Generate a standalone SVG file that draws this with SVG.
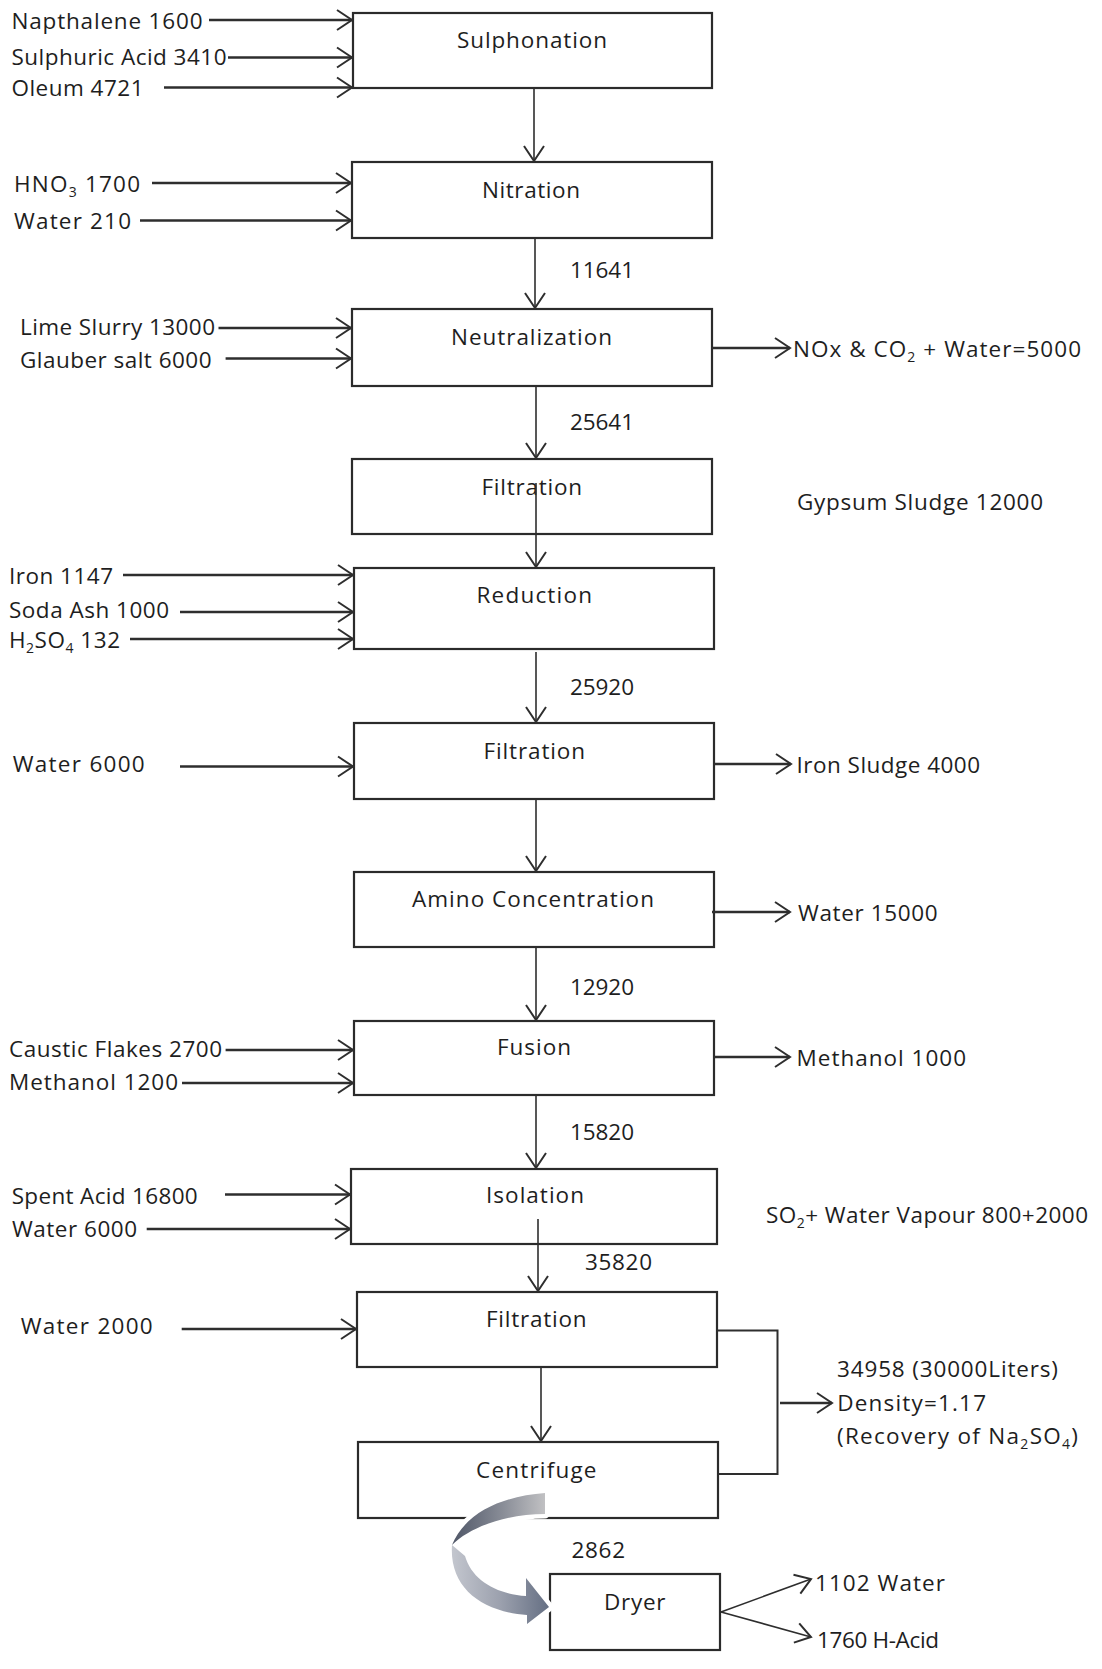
<svg xmlns="http://www.w3.org/2000/svg" width="1102" height="1669" viewBox="0 0 1102 1669">
  <defs>
    <style>
      text { font-family: "Open Sans", Lato, "Liberation Sans", sans-serif; font-size: 22.5px; fill: #1e1e1e; }
      .box rect { fill: #ffffff; stroke: #2b2b2b; stroke-width: 2.2; }
      .ln { stroke: #2e2e2e; fill: none; }
      .feed { stroke-width: 2.4; }
      .main { stroke-width: 1.6; }
      .sub { font-size: 14px; }
    </style>
    <marker id="head" viewBox="-17 -12 19 24" refX="0" refY="0" markerWidth="19" markerHeight="24" markerUnits="userSpaceOnUse" orient="auto">
      <path d="M-15,-10 L0,0 L-15,10" fill="none" stroke="#2e2e2e" stroke-width="2"/>
    </marker>
    <linearGradient id="bandTop" x1="452" y1="0" x2="546" y2="0" gradientUnits="userSpaceOnUse">
      <stop offset="0" stop-color="#4f5667"/>
      <stop offset="0.55" stop-color="#8a8e98"/>
      <stop offset="1" stop-color="#c2c2c4"/>
    </linearGradient>
    <linearGradient id="bandLow" x1="452" y1="0" x2="548" y2="0" gradientUnits="userSpaceOnUse">
      <stop offset="0" stop-color="#c3c6ce"/>
      <stop offset="0.5" stop-color="#9ca1ae"/>
      <stop offset="1" stop-color="#667084"/>
    </linearGradient>
  </defs>

  <rect x="0" y="0" width="1102" height="1669" fill="#ffffff"/>

  <!-- process steps -->
  <g id="sulphonation" class="box"><rect x="353" y="13" width="359" height="75"/><text x="457" y="48" textLength="150">Sulphonation</text></g>
  <g id="nitration" class="box"><rect x="352" y="162" width="360" height="76"/><text x="482" y="198" textLength="98">Nitration</text></g>
  <g id="neutralization" class="box"><rect x="352" y="309" width="360" height="77"/><text x="451" y="345" textLength="161">Neutralization</text></g>
  <g id="filtration1" class="box"><rect x="352" y="459" width="360" height="75"/><text x="481.5" y="495" textLength="100.5">Filtration</text></g>
  <g id="reduction" class="box"><rect x="354" y="568" width="360" height="81"/><text x="476.5" y="603" textLength="115.5">Reduction</text></g>
  <g id="filtration2" class="box"><rect x="354" y="723" width="360" height="76"/><text x="483.6" y="759" textLength="101.4">Filtration</text></g>
  <g id="amino-concentration" class="box"><rect x="354" y="872" width="360" height="75"/><text x="412" y="907" textLength="242">Amino Concentration</text></g>
  <g id="fusion" class="box"><rect x="354" y="1021" width="360" height="74"/><text x="497" y="1055" textLength="74">Fusion</text></g>
  <g id="isolation" class="box"><rect x="351" y="1169" width="366" height="75"/><text x="486" y="1203" textLength="98">Isolation</text></g>
  <g id="filtration3" class="box"><rect x="357" y="1292" width="360" height="75"/><text x="486" y="1327" textLength="100.5">Filtration</text></g>
  <g id="centrifuge" class="box"><rect x="358" y="1442" width="360" height="76"/><text x="476" y="1478" textLength="120.5">Centrifuge</text></g>
  <g id="dryer" class="box"><rect x="550" y="1574" width="170" height="76"/><text x="604" y="1610" textLength="61.5">Dryer</text></g>

  <!-- connectors -->
  <g id="connectors">
    <!-- feeds -->
    <line class="ln feed" x1="209" y1="20" x2="352" y2="20" marker-end="url(#head)"/>
    <line class="ln feed" x1="228" y1="57.5" x2="352" y2="57.5" marker-end="url(#head)"/>
    <line class="ln feed" x1="164" y1="87.5" x2="352" y2="87.5" marker-end="url(#head)"/>
    <line class="ln feed" x1="152" y1="183" x2="351" y2="183" marker-end="url(#head)"/>
    <line class="ln feed" x1="140" y1="220.5" x2="351" y2="220.5" marker-end="url(#head)"/>
    <line class="ln feed" x1="218.5" y1="328" x2="351" y2="328" marker-end="url(#head)"/>
    <line class="ln feed" x1="225.6" y1="358.5" x2="351" y2="358.5" marker-end="url(#head)"/>
    <line class="ln feed" x1="123" y1="575" x2="353" y2="575" marker-end="url(#head)"/>
    <line class="ln feed" x1="180" y1="612" x2="353" y2="612" marker-end="url(#head)"/>
    <line class="ln feed" x1="130" y1="639" x2="353" y2="639" marker-end="url(#head)"/>
    <line class="ln feed" x1="180" y1="766.5" x2="353" y2="766.5" marker-end="url(#head)"/>
    <line class="ln feed" x1="225.6" y1="1050" x2="353" y2="1050" marker-end="url(#head)"/>
    <line class="ln feed" x1="182" y1="1083" x2="353" y2="1083" marker-end="url(#head)"/>
    <line class="ln feed" x1="225" y1="1194.5" x2="350" y2="1194.5" marker-end="url(#head)"/>
    <line class="ln feed" x1="146.7" y1="1229" x2="350" y2="1229" marker-end="url(#head)"/>
    <line class="ln feed" x1="181.7" y1="1329" x2="356" y2="1329" marker-end="url(#head)"/>

    <!-- main stream -->
    <line class="ln main" x1="534" y1="88" x2="534" y2="161" marker-end="url(#head)"/>
    <line class="ln main" x1="535" y1="238" x2="535" y2="308" marker-end="url(#head)"/>
    <line class="ln main" x1="536" y1="386" x2="536" y2="458" marker-end="url(#head)"/>
    <line class="ln main" x1="536" y1="483" x2="536" y2="567" marker-end="url(#head)"/>
    <line class="ln main" x1="536" y1="652" x2="536" y2="722" marker-end="url(#head)"/>
    <line class="ln main" x1="536" y1="799" x2="536" y2="871" marker-end="url(#head)"/>
    <line class="ln main" x1="536" y1="947" x2="536" y2="1020" marker-end="url(#head)"/>
    <line class="ln main" x1="536" y1="1095" x2="536" y2="1168" marker-end="url(#head)"/>
    <line class="ln main" x1="538" y1="1219" x2="538" y2="1291" marker-end="url(#head)"/>
    <line class="ln main" x1="541" y1="1367" x2="541" y2="1441" marker-end="url(#head)"/>

    <!-- outlets -->
    <line class="ln feed" x1="712" y1="348" x2="790" y2="348" marker-end="url(#head)"/>
    <line class="ln feed" x1="714" y1="764" x2="791" y2="764" marker-end="url(#head)"/>
    <line class="ln feed" x1="712" y1="912" x2="790" y2="912" marker-end="url(#head)"/>
    <line class="ln feed" x1="714" y1="1057" x2="790" y2="1057" marker-end="url(#head)"/>
    <path class="ln" d="M717,1330.5 H777.5 V1474 H718" stroke-width="2"/>
    <line class="ln feed" x1="780" y1="1403" x2="832" y2="1403" marker-end="url(#head)"/>
    <line class="ln main" x1="721" y1="1612" x2="811" y2="1579" marker-end="url(#head)"/>
    <line class="ln main" x1="721" y1="1612" x2="811" y2="1637" marker-end="url(#head)"/>

    <!-- curved transfer arrow, centrifuge to dryer -->
    <g id="transfer-arrow">
      <path d="M545,1493 C505,1496 466,1511 452,1545 C449,1588 482,1612 527,1615 L527,1624 L549,1607 L526,1578 L526,1596 C496,1594 472,1580 465,1556 C478,1527 510,1514 545,1514 Z" fill="#ffffff" stroke="#ffffff" stroke-width="9" stroke-linejoin="round"/>
      <path d="M452,1545 C449,1588 482,1612 527,1615 L527,1624 L549,1607 L526,1578 L526,1596 C496,1594 472,1580 465,1556 Z" fill="url(#bandLow)"/>
      <path d="M545,1493 C505,1496 466,1511 452,1545 C470,1527 506,1514 545,1514 Z" fill="url(#bandTop)"/>
    </g>
  </g>

  <!-- feed labels -->
  <g id="feed-labels">
    <text x="11.5" y="29" textLength="191">Napthalene 1600</text>
    <text x="11.5" y="65" textLength="215">Sulphuric Acid 3410</text>
    <text x="11.5" y="96" textLength="132">Oleum 4721</text>
    <text x="14" y="192" textLength="126">HNO<tspan class="sub" dy="5">3</tspan><tspan dy="-5"> 1700</tspan></text>
    <text x="14" y="229" textLength="117">Water 210</text>
    <text x="20" y="335" textLength="195">Lime Slurry 13000</text>
    <text x="20" y="368" textLength="191.5">Glauber salt 6000</text>
    <text x="9" y="584" textLength="104">Iron 1147</text>
    <text x="9" y="618" textLength="160">Soda Ash 1000</text>
    <text x="9" y="648" textLength="111">H<tspan class="sub" dy="5">2</tspan><tspan dy="-5">SO</tspan><tspan class="sub" dy="5">4</tspan><tspan dy="-5"> 132</tspan></text>
    <text x="12.7" y="772" textLength="132">Water  6000</text>
    <text x="9" y="1057" textLength="213">Caustic Flakes 2700</text>
    <text x="9" y="1090" textLength="169">Methanol 1200</text>
    <text x="11.7" y="1204" textLength="186">Spent Acid 16800</text>
    <text x="12" y="1237" textLength="125">Water 6000</text>
    <text x="20.7" y="1334" textLength="132">Water  2000</text>
  </g>

  <!-- stream quantities -->
  <g id="stream-labels">
    <text x="570" y="278" textLength="64">11641</text>
    <text x="570" y="430" textLength="64">25641</text>
    <text x="570" y="695" textLength="64">25920</text>
    <text x="570" y="995" textLength="64">12920</text>
    <text x="570" y="1140" textLength="64">15820</text>
    <text x="585" y="1270" textLength="67">35820</text>
    <text x="571.5" y="1558" textLength="53.5">2862</text>
  </g>

  <!-- outlet labels -->
  <g id="outlet-labels">
    <text x="793" y="357" textLength="288">NOx &amp; CO<tspan class="sub" dy="5">2</tspan><tspan dy="-5"> + Water=5000</tspan></text>
    <text x="797" y="510" textLength="246">Gypsum Sludge 12000</text>
    <text x="796.6" y="773" textLength="183.4">Iron Sludge 4000</text>
    <text x="798" y="921" textLength="139.6">Water 15000</text>
    <text x="796.6" y="1066" textLength="169.4">Methanol 1000</text>
    <text x="766" y="1223" textLength="322">SO<tspan class="sub" dy="5">2</tspan><tspan dy="-5">+ Water Vapour 800+2000</tspan></text>
    <text x="837" y="1377" textLength="221">34958 (30000Liters)</text>
    <text x="837.3" y="1411" textLength="148.7">Density=1.17</text>
    <text x="837" y="1444" textLength="241">(Recovery of Na<tspan class="sub" dy="5">2</tspan><tspan dy="-5">SO</tspan><tspan class="sub" dy="5">4</tspan><tspan dy="-5">)</tspan></text>
    <text x="815" y="1591" textLength="130">1102 Water</text>
    <text x="817" y="1648" textLength="122">1760 H-Acid</text>
  </g>
</svg>
